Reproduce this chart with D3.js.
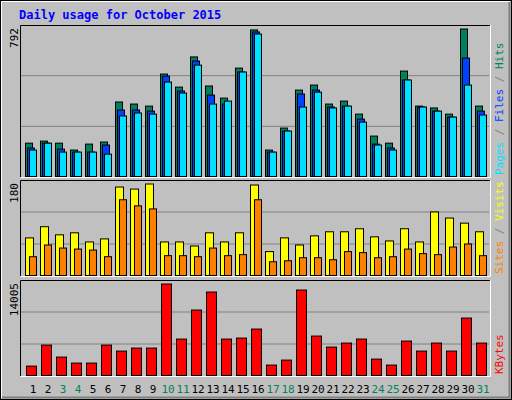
<!DOCTYPE html>
<html><head><meta charset="utf-8">
<script src="https://cdn.jsdelivr.net/npm/d3@7"></script>
<style>body{margin:0;background:#fff}svg{display:block}text{font-family:"DejaVu Sans Mono",monospace}</style>
</head><body><div id="app"></div>
<script>
const days = d3.range(1, 32);
const weekend = [3, 4, 10, 11, 17, 18, 24, 25, 31];
const hits = [179,190,179,142,174,185,400,389,378,550,480,642,486,421,582,787,142,260,464,491,389,405,335,217,179,566,378,368,335,792,378];
const files = [153,179,147,131,131,169,357,357,351,539,459,620,437,389,561,776,131,244,443,464,373,378,308,174,153,518,373,351,319,636,351];
const pages = [142,179,131,131,131,120,325,341,335,507,448,598,389,405,561,765,131,244,373,453,368,378,292,169,142,518,373,351,319,491,330];
const visits = [74,96,80,84,66,72,174,170,180,66,66,58,84,66,84,178,47,74,60,78,86,86,92,76,68,92,66,125,113,103,86];
const sites = [37,60,54,52,50,37,149,137,131,39,39,37,54,39,41,149,27,29,35,35,31,47,45,35,37,52,43,41,56,62,39];
const kbytes = [1440,4657,2819,1900,1900,4657,3738,4198,4198,14005,5577,10019,12777,5577,5730,7108,1593,2359,13083,6036,4351,4964,5577,2512,1593,5270,3738,4964,3738,8793,4964];

const W = 512, H = 400;
const svg = d3.select("#app").append("svg").attr("width", W).attr("height", H);
svg.append("rect").attr("x", 0).attr("y", 0).attr("width", W).attr("height", H).attr("fill", "#c0c0c0");
svg.append("rect").attr("x", 0.5).attr("y", 0.5).attr("width", W - 1).attr("height", H - 1).attr("fill", "none").attr("stroke", "#000");
svg.append("path").attr("d", "M1.5,398V1.5H510").attr("stroke", "#fff").attr("fill", "none");
svg.append("path").attr("d", "M2,397.5H509.5V2").attr("stroke", "#808080").attr("fill", "none").attr("stroke-width", 2);

svg.append("text").attr("x", 19).attr("y", 19).text("Daily usage for October 2015")
  .attr("fill", "#0000ff").attr("font-weight", "bold").attr("font-size", 12);

const x = d3.scaleBand().domain(days).range([20, 485]).paddingInner(0);
const px = d => 25 + (d - 1) * 15;

function panel(top, bottom, maxLabel, maxVal, series, labels) {
  const base = bottom - 0.5;
  svg.append("rect").attr("x", 20).attr("y", top).attr("width", 470).attr("height", bottom - top).attr("fill", "#c0c0c0");
  const h = bottom - top;
  [1, 2].forEach(k => svg.append("line").attr("x1", 21).attr("x2", 489)
    .attr("y1", top + h * k / 3).attr("y2", top + h * k / 3).attr("stroke", "#808080"));
  svg.append("path").attr("d", `M20.5,${bottom}V${top + 0.5}H490`).attr("stroke", "#000").attr("fill", "none");
  svg.append("path").attr("d", `M20.5,${bottom + 0.5}H490.5V${top}`).attr("stroke", "#fff").attr("fill", "none");
  const y = d3.scaleLinear().domain([0, maxVal]).range([base, top + 4]);
  series.forEach(s => {
    svg.append("g").selectAll("rect").data(s.values).join("rect")
      .attr("x", (v, i) => px(days[i]) + s.off + 0.5)
      .attr("y", v => y(v))
      .attr("width", s.w)
      .attr("height", v => base - y(v))
      .attr("fill", s.color).attr("stroke", "#000");
  });
  svg.append("text").attr("transform", `translate(18,${top + 3}) rotate(-90)`)
    .attr("text-anchor", "end").attr("font-size", 11).text(maxLabel);
  const t = svg.append("text").attr("transform", `translate(503,${bottom - 2}) rotate(-90)`).attr("font-size", 11);
  labels.forEach((l, i) => {
    if (i) t.append("tspan").attr("fill", "#808080").text(" / ");
    t.append("tspan").attr("fill", l[1]).text(l[0]);
  });
}

panel(25, 177, "792", 792, [
  { values: hits, color: "#00805c", off: 0, w: 7 },
  { values: files, color: "#0040ff", off: 2, w: 7 },
  { values: pages, color: "#00e0ff", off: 4, w: 7 }
], [["Pages", "#00e0ff"], ["Files", "#0040ff"], ["Hits", "#00805c"]]);

panel(180, 276, "180", 180, [
  { values: visits, color: "#ffff00", off: 0, w: 8 },
  { values: sites, color: "#ff8000", off: 4, w: 7 }
], [["Sites", "#ff8000"], ["Visits", "#ffff00"]]);

panel(280, 376, "14005", 14005, [
  { values: kbytes, color: "#ff0000", off: 1, w: 10 }
], [["KBytes", "#ff0000"]]);

svg.append("g").selectAll("text").data(days).join("text")
  .attr("x", d => px(d) + 8).attr("y", 393).attr("text-anchor", "middle").attr("font-size", 11)
  .attr("fill", d => weekend.includes(d) ? "#00805c" : "#000").text(d => d);
</script></body></html>
